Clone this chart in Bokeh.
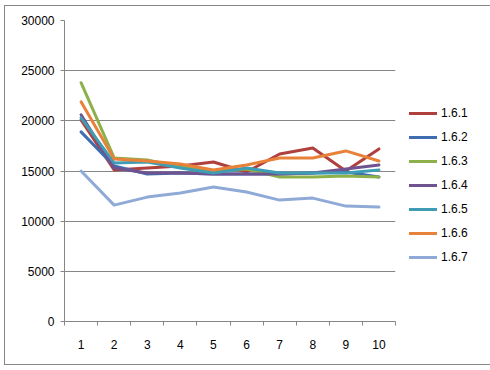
from bokeh.plotting import figure
from bokeh.models import FixedTicker, Legend, LegendItem, ColumnDataSource
from bokeh.embed import file_html
from bokeh.resources import INLINE

runs = [1, 2, 3, 4, 5, 6, 7, 8, 9, 10]
series_names = ["1.6.1", "1.6.2", "1.6.3", "1.6.4", "1.6.5", "1.6.6", "1.6.7"]
v161 = [20100, 15100, 15300, 15500, 15900, 14900, 16700, 17300, 15000, 17200]
v162 = [18900, 15500, 14700, 14800, 14700, 14700, 14700, 14800, 14900, 14400]
v163 = [23800, 16300, 16100, 15400, 15000, 15200, 14400, 14400, 14500, 14400]
v164 = [20600, 15300, 14800, 14800, 14700, 14700, 14700, 14800, 15200, 15600]
v165 = [20300, 15800, 15900, 15300, 14800, 15300, 14800, 14800, 14800, 15100]
v166 = [21900, 16200, 16000, 15700, 15100, 15600, 16300, 16300, 17000, 16000]
v167 = [15000, 11600, 12400, 12800, 13400, 12900, 12100, 12300, 11500, 11400]
y_ticks = [0, 5000, 10000, 15000, 20000, 25000, 30000]

colors = ["#B0403D", "#3F6EB0", "#8DB04B", "#6F5290", "#3E9DB4", "#E8823A", "#8FAAD6"]
all_values = [v161, v162, v163, v164, v165, v166, v167]

p = figure(frame_width=331, frame_height=301, output_backend="svg", toolbar_location=None,
           x_range=(0.5, 10.5), y_range=(0, 30000),
           min_border_left=59, min_border_right=0, min_border_top=14, min_border_bottom=43)
p.styles = {"border": "1px solid #868686", "margin-left": "4px", "margin-top": "5px"}
p.outline_line_color = None
p.background_fill_color = "white"
p.border_fill_color = "white"

items = []
for name, vals, col in zip(series_names, all_values, colors):
    src = ColumnDataSource(dict(x=runs, y=vals))
    r = p.line("x", "y", source=src, line_color=col, line_width=3, line_join="round", line_cap="round")
    items.append(LegendItem(label=name, renderers=[r]))

p.xaxis.ticker = FixedTicker(ticks=runs, minor_ticks=[r - 0.5 for r in runs] + [10.5])
p.xaxis.major_tick_out = 0
p.xaxis.major_tick_in = 0
p.xaxis.minor_tick_out = 4
p.xaxis.minor_tick_in = 0
p.xaxis.major_label_standoff = 14
p.yaxis.ticker = FixedTicker(ticks=y_ticks)
p.yaxis.minor_tick_out = 0
p.yaxis.minor_tick_in = 0
p.yaxis.major_tick_out = 4
p.yaxis.major_tick_in = 0
p.yaxis.major_label_standoff = 6
for ax in (p.xaxis, p.yaxis):
    ax.axis_line_color = "#868686"
    ax.major_tick_line_color = "#868686"
    ax.minor_tick_line_color = "#868686"
    ax.major_label_text_font = "Liberation Sans"
    ax.major_label_text_font_size = "12px"
    ax.major_label_text_color = "black"
p.xgrid.grid_line_color = None
p.ygrid.ticker = FixedTicker(ticks=y_ticks)
p.ygrid.grid_line_color = "#868686"
p.ygrid.grid_line_width = 1

legend = Legend(items=items, location="top_left", orientation="vertical")
legend.title = " "
legend.title_text_font_size = "12px"
legend.title_standoff = 55
legend.border_line_color = None
legend.background_fill_alpha = 0
legend.padding = 0
legend.margin = 14
legend.spacing = 4
legend.glyph_width = 28
legend.glyph_height = 20
legend.label_height = 20
legend.label_standoff = 4
legend.label_text_font = "Liberation Sans"
legend.label_text_font_size = "12px"
legend.label_text_color = "black"
p.add_layout(legend, "right")

open("out.html", "w").write(file_html(p, INLINE))
